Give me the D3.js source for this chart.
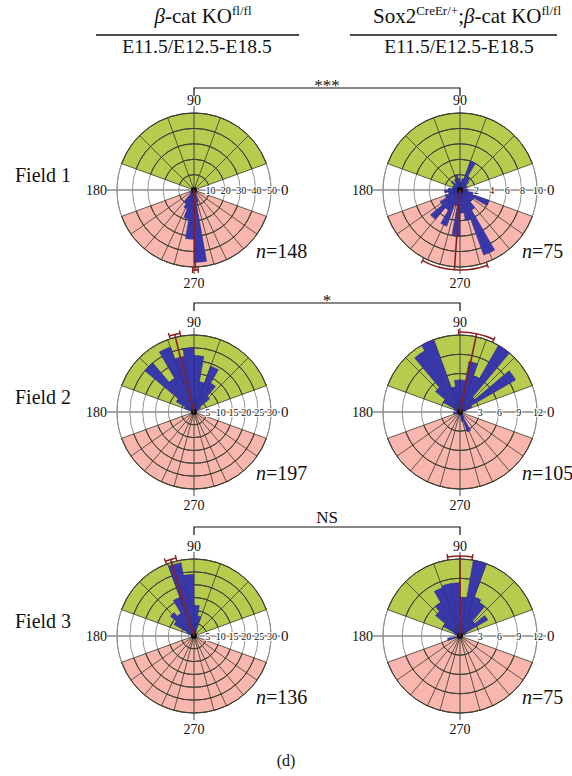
<!DOCTYPE html>
<html>
<head>
<meta charset="utf-8">
<script src="https://cdn.jsdelivr.net/npm/d3@7"></script>
<style>
  body { margin: 0; background: #fff; }
  svg text { font-family: "Liberation Serif", "DejaVu Serif", serif; fill: #111; }
</style>
</head>
<body>
<svg id="fig" width="572" height="776"></svg>
<script>
// ---- data ----
var fields = ["Field 1", "Field 2", "Field 3"]
var sigLabels = ["***", "*", "NS"]
var nLeft = [148, 197, 136]
var nRight = [75, 105, 75]
var maxLeft = [50, 30, 30]
var maxRight = [10, 12, 12]
var ticksLeft = [[10, 20, 30, 40, 50], [5, 10, 15, 20, 25, 30], [5, 10, 15, 20, 25, 30]]
var ticksRight = [[2, 4, 6, 8, 10], [3, 6, 9, 12], [3, 6, 9, 12]]
// bins of 10 degrees, starting at 0 (counter clockwise from 0)
var binStarts = d3.range(0, 360, 10)
var f1Left  = [0,0,0,0,0,0,0,0,1,1, 0,0,0,0,0,0,0,0,0,1, 1,2,3,10,13,19,32,47,8,3, 2,1,0,0,0,0]
var f1Right = [1,0.5,1,1,1.5,2,4,1.5,1,1.5, 2,1.5,1,1.5,1,1,1,1.5,2,1.5, 2,3,5,3,5,2,6,3,4,9, 3,2,2,4,2,1]
var f2Left  = [0,0,0.5,3,8,13,19,12,22,25, 22,27,15,25,8,4,1,0,0,0.5, 0,0,0,0,0,0,0,0,0,0, 0,0,0,0,0,0]
var f2Right = [0,1,2,10,3,12,6,8,5,5, 4,12,11,5,3,1,0.5,0.5,1,1, 0.5,0,0,0,0,0,0,0,1.5,3.3, 1,0,0,0,0,0]
var f3Left  = [0,0,0,0,0,0,2,8,12,24, 29,16,10,12,9,3,1,0,0,0, 0,0,0,0,0,0,0,0,0,0, 0,0,0,0,0,0]
var f3Right = [0,0,1,5,3,6,6.5,12,6,8.3, 8.3,8,6,5,3,1,0,0,0,2, 0,0,0,0,0,0,0,0,0,0, 0,0,0,0,0,0]
var valuesLeft = [f1Left, f2Left, f3Left]
var valuesRight = [f1Right, f2Right, f3Right]
// mean direction and confidence half-width (degrees)
var meanLeft = [271, 104, 107]
var ciLeft = [2, 4, 4]
var meanRight = [266, 78, 90]
var ciRight = [24, 13, 9]

// ---- layout ----
var svg = d3.select('svg#fig')
var rowY = [190, 412, 636]
var colX = [194, 460]
var R = 77
var green = '#b7cc4f'
var pink = '#f9b6ae'
var blue = '#3838aa'
var red = '#8e1f1f'

function rad(deg){ return (90 - deg) * Math.PI / 180 }   // math angle -> d3 arc angle
function px(cx, r, deg){ return cx + r * Math.cos(deg * Math.PI / 180) }
function py(cy, r, deg){ return cy - r * Math.sin(deg * Math.PI / 180) }

// titles
var t1 = svg.append('text').attr('x', 203).attr('y', 23).attr('text-anchor', 'middle').style('font-size', '21px')
t1.append('tspan').style('font-style', 'italic').text('β')
t1.append('tspan').text('-cat KO')
t1.append('tspan').attr('dy', -8).style('font-size', '13px').text('fl/fl')
svg.append('line').attr('x1', 96).attr('x2', 299).attr('y1', 35).attr('y2', 35).attr('stroke', '#111').attr('stroke-width', 1.6)
svg.append('text').attr('x', 197).attr('y', 53).attr('text-anchor', 'middle').style('font-size', '19.5px').text('E11.5/E12.5-E18.5')

var t2 = svg.append('text').attr('x', 467).attr('y', 23).attr('text-anchor', 'middle').style('font-size', '21px')
t2.append('tspan').text('Sox2')
t2.append('tspan').attr('dy', -8).style('font-size', '13px').text('CreEr/+')
t2.append('tspan').attr('dy', 8).text(';')
t2.append('tspan').style('font-style', 'italic').text('β')
t2.append('tspan').text('-cat KO')
t2.append('tspan').attr('dy', -8).style('font-size', '13px').text('fl/fl')
svg.append('line').attr('x1', 350).attr('x2', 557).attr('y1', 35).attr('y2', 35).attr('stroke', '#111').attr('stroke-width', 1.6)
svg.append('text').attr('x', 459).attr('y', 53).attr('text-anchor', 'middle').style('font-size', '19.5px').text('E11.5/E12.5-E18.5')

var bracketY = [88, 303, 527]

fields.forEach(function(f, i){
  var cy = rowY[i]
  // significance bracket
  svg.append('path')
    .attr('d', 'M' + colX[0] + ',' + (bracketY[i] + 8) + 'V' + bracketY[i] + 'H' + colX[1] + 'V' + (bracketY[i] + 8))
    .attr('fill', 'none').attr('stroke', '#111').attr('stroke-width', 1.2)
  svg.append('text').attr('x', (colX[0] + colX[1]) / 2).attr('y', sigLabels[i] == 'NS' ? bracketY[i] - 4 : bracketY[i] + 3)
    .attr('text-anchor', 'middle').style('font-size', '17px').text(sigLabels[i])
  // field label
  svg.append('text').attr('x', 15).attr('y', cy - 8).style('font-size', '20px').text(f)

  rose(colX[0], cy, maxLeft[i], ticksLeft[i], valuesLeft[i], meanLeft[i], ciLeft[i], nLeft[i])
  rose(colX[1], cy, maxRight[i], ticksRight[i], valuesRight[i], meanRight[i], ciRight[i], nRight[i])
})

svg.append('text').attr('x', 286).attr('y', 766).attr('text-anchor', 'middle').style('font-size', '16px').text('(d)')

function rose(cx, cy, max, ticks, values, mean, ci, n){
  var g = svg.append('g').attr('transform', 'translate(' + cx + ',' + cy + ')')
  var r = d3.scaleLinear().domain([0, max]).range([0, R])
  var arc = d3.arc()

  // coloured sectors
  g.append('path').attr('d', arc({innerRadius: 0, outerRadius: R, startAngle: rad(160), endAngle: rad(20)}))
    .attr('fill', green)
  g.append('path').attr('d', arc({innerRadius: 0, outerRadius: R, startAngle: rad(340), endAngle: rad(200)}))
    .attr('fill', pink)

  // rings: grey everywhere, darker over the sectors
  g.selectAll('circle.ring').data(ticks).enter().append('circle')
    .attr('r', function(d){ return r(d) })
    .attr('fill', 'none').attr('stroke', '#8a8a8a').attr('stroke-width', 0.9)
  g.append('circle').attr('r', R).attr('fill', 'none').attr('stroke', '#8a8a8a').attr('stroke-width', 0.9)
  var ringVals = ticks.slice()
  if(ringVals[ringVals.length - 1] < max) ringVals.push(max)
  ;[[160, 20], [340, 200]].forEach(function(s){
    g.selectAll(null).data(ringVals).enter().append('path')
      .attr('d', function(d){ return arc({innerRadius: r(d), outerRadius: r(d), startAngle: rad(s[0]), endAngle: rad(s[1])}) })
      .attr('fill', 'none').attr('stroke', '#3a3a2a').attr('stroke-width', 0.8)
  })
  // spokes inside the sectors
  var spokes = [20, 45, 70, 110, 135, 160, 200, 215, 230, 245, 255, 285, 295, 310, 325, 340]
  g.selectAll('line.spoke').data(spokes).enter().append('line')
    .attr('x1', 0).attr('y1', 0)
    .attr('x2', function(d){ return px(0, R, d) })
    .attr('y2', function(d){ return py(0, R, d) })
    .attr('stroke', '#3a3a2a').attr('stroke-width', 0.8)

  // axes
  g.append('line').attr('x1', -87).attr('x2', 86).attr('y1', 0).attr('y2', 0).attr('stroke', '#8a8a8a').attr('stroke-width', 1.3)
  g.append('line').attr('x1', 0).attr('x2', 0).attr('y1', -84).attr('y2', 84).attr('stroke', '#444').attr('stroke-width', 1)

  // bars
  g.selectAll('path.bar').data(binStarts).enter().append('path')
    .attr('d', function(d, k){
      return arc({innerRadius: 0, outerRadius: r(values[k]), startAngle: rad(d + 10), endAngle: rad(d)})
    })
    .attr('fill', blue).attr('stroke', '#26268a').attr('stroke-width', 0.5)
  g.append('circle').attr('r', 3).attr('fill', '#111')

  // mean vector and confidence arc
  var rm = R + 3
  g.append('line').attr('x1', 0).attr('y1', 0).attr('x2', px(0, rm, mean)).attr('y2', py(0, rm, mean))
    .attr('stroke', red).attr('stroke-width', 1.6)
  g.append('path').attr('d', arc({innerRadius: rm, outerRadius: rm, startAngle: rad(mean + ci), endAngle: rad(mean - ci)}))
    .attr('fill', 'none').attr('stroke', red).attr('stroke-width', 1.6)
  ;[mean - ci, mean + ci].forEach(function(a){
    g.append('line').attr('x1', px(0, rm - 3, a)).attr('y1', py(0, rm - 3, a))
      .attr('x2', px(0, rm + 3, a)).attr('y2', py(0, rm + 3, a))
      .attr('stroke', red).attr('stroke-width', 1.4)
  })

  // tick labels along 0 degree axis
  g.selectAll('text.tick').data(ticks).enter().append('text')
    .attr('x', function(d){ return r(d) + 1 }).attr('y', 3.5)
    .attr('text-anchor', 'middle').style('font-size', '10px')
    .attr('stroke', '#fff').attr('stroke-width', 2).attr('paint-order', 'stroke')
    .text(function(d){ return d })

  // angle labels
  g.append('text').attr('x', 0).attr('y', -85).attr('text-anchor', 'middle').style('font-size', '14px').text('90')
  g.append('text').attr('x', 0).attr('y', 98).attr('text-anchor', 'middle').style('font-size', '14px').text('270')
  g.append('text').attr('x', -87).attr('y', 5).attr('text-anchor', 'end').style('font-size', '14px').text('180')
  g.append('text').attr('x', 87).attr('y', 5).style('font-size', '15px').text('0')

  // n label
  var nt = g.append('text').attr('x', 62).attr('y', 68).style('font-size', '20px')
  nt.append('tspan').style('font-style', 'italic').text('n')
  nt.append('tspan').text('=' + n)
}
</script>
</body>
</html>
